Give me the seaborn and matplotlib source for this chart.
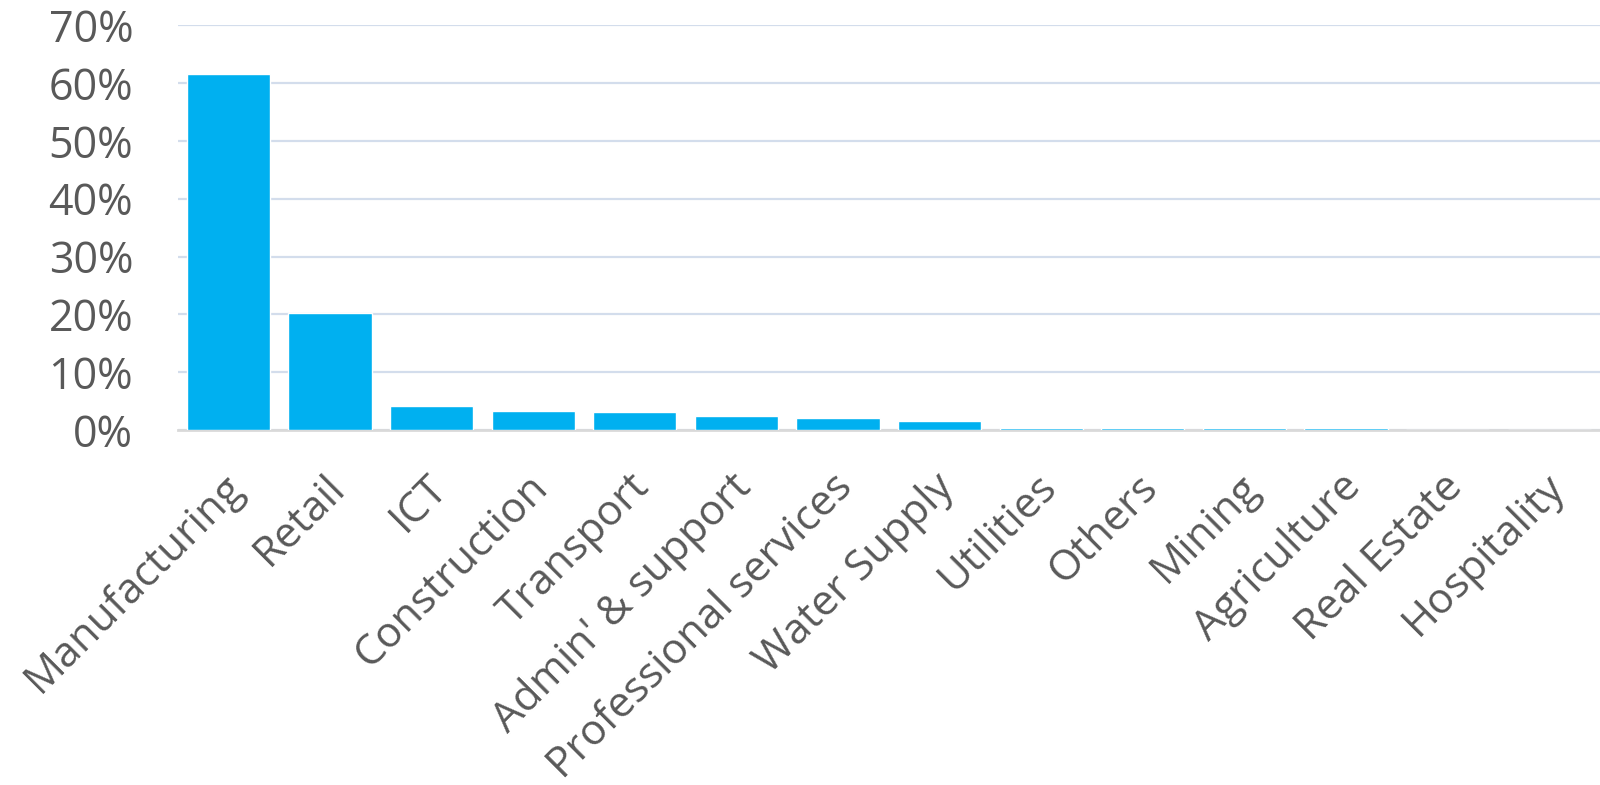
import matplotlib
matplotlib.use("Agg")
import matplotlib.pyplot as plt
import matplotlib.transforms as mtransforms
import seaborn as sns
import pandas as pd
from matplotlib.ticker import PercentFormatter

categories = ["Manufacturing", "Retail", "ICT", "Construction", "Transport",
              "Admin' & support", "Professional services", "Water Supply",
              "Utilities", "Others", "Mining", "Agriculture", "Real Estate",
              "Hospitality"]
shares = [61.6, 20.2, 4.1, 3.4, 3.2, 2.5, 2.1, 1.6, 0.35, 0.35, 0.35, 0.35, 0.0, 0.0]
y_ticks = [0, 10, 20, 30, 40, 50, 60, 70]

df = pd.DataFrame({"category": categories, "share": shares})

sns.set_theme(style="white")
plt.rcParams["font.family"] = ["Open Sans", "DejaVu Sans"]

fig = plt.figure(figsize=(16, 7.85), dpi=100)
ax = fig.add_axes([0.111, 0.452, 0.889, 0.516])

sns.barplot(data=df, x="category", y="share", color="#00B0F0", saturation=1,
            width=0.82, ax=ax, zorder=3)

ax.set_ylim(0, 70)
ax.set_xlim(-0.5, len(categories) - 0.5)
ax.set_yticks(y_ticks)
ax.yaxis.set_major_formatter(PercentFormatter(decimals=0))
ax.grid(axis="y", color="#D3DDEC", linewidth=1.6, zorder=0)
ax.grid(axis="x", visible=False)
for s in ["top", "right", "left"]:
    ax.spines[s].set_visible(False)
ax.spines["bottom"].set_color("#D9D9D9")
ax.spines["bottom"].set_linewidth(2)
ax.spines["bottom"].set_zorder(2)
ax.set_xlabel("")
ax.set_ylabel("")
ax.tick_params(axis="y", length=0, pad=32, labelsize=31, labelcolor="#595959")
ax.tick_params(axis="x", length=0, pad=26, labelsize=30.5, labelcolor="#595959")
offset = mtransforms.ScaledTranslation(-6 / 100, 0, fig.dpi_scale_trans)
for lbl in ax.get_xticklabels():
    lbl.set_rotation(45)
    lbl.set_ha("right")
    lbl.set_va("top")
    lbl.set_rotation_mode("anchor")
    lbl.set_transform(lbl.get_transform() + offset)

fig.savefig("out.png", dpi=100)
